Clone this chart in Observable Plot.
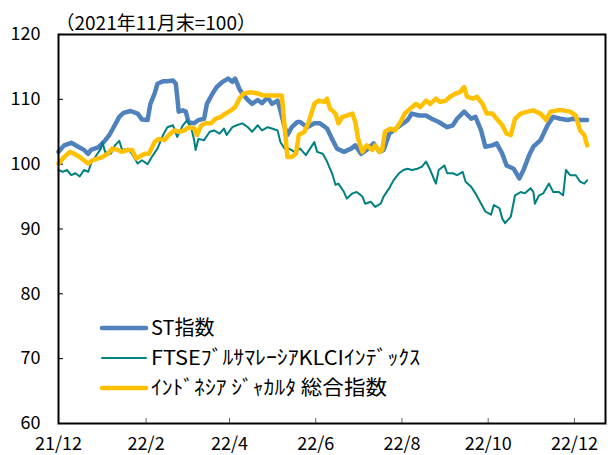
<!DOCTYPE html>
<html><head><meta charset="utf-8">
<script src="https://cdn.jsdelivr.net/npm/d3@7"></script>
<script src="https://cdn.jsdelivr.net/npm/@observablehq/plot@0.6"></script>
<style>body{margin:0;background:#fff} #chart{width:614px;height:455px}</style>
</head><body><div id="chart"></div>
<script>
const titleText = "（2021年11月末=100）";
const seriesNames = ["ST指数", "FTSEﾌﾞﾙｻﾏﾚｰｼｱKLCIｲﾝﾃﾞｯｸｽ", "ｲﾝﾄﾞﾈｼｱ ｼﾞｬｶﾙﾀ 総合指数"];
const seriesColors = ["#4F81BD", "#008080", "#FFC000"];
const legendTextWidths = [null, 269, 236];
const xTickDates = ["2021-12-01","2022-02-01","2022-04-01","2022-06-01","2022-08-01","2022-10-01","2022-12-01"];
const yTicks = [60, 70, 80, 90, 100, 110, 120];
const xDomain = ["2021-12-01", "2022-12-23"];

const stDates = ["2021-12-01","2021-12-05","2021-12-10","2021-12-14","2021-12-19","2021-12-22","2021-12-24","2021-12-29",
"2022-01-02","2022-01-06","2022-01-09","2022-01-13","2022-01-16","2022-01-21","2022-01-26","2022-01-29",
"2022-02-02","2022-02-04","2022-02-07","2022-02-09","2022-02-13","2022-02-16","2022-02-20","2022-02-22","2022-02-23","2022-02-24","2022-02-27",
"2022-03-01","2022-03-03","2022-03-07","2022-03-10","2022-03-14","2022-03-16","2022-03-20","2022-03-23","2022-03-27","2022-03-31",
"2022-04-03","2022-04-05","2022-04-08","2022-04-10","2022-04-14","2022-04-17","2022-04-21","2022-04-24","2022-04-28",
"2022-05-01","2022-05-05","2022-05-07","2022-05-10","2022-05-12","2022-05-15","2022-05-19","2022-05-21","2022-05-26","2022-05-31",
"2022-06-04","2022-06-09","2022-06-13","2022-06-16","2022-06-21","2022-06-26","2022-06-29",
"2022-07-03","2022-07-07","2022-07-12","2022-07-16","2022-07-19","2022-07-23","2022-07-26","2022-07-31",
"2022-08-05","2022-08-08","2022-08-13","2022-08-18","2022-08-22","2022-08-27",
"2022-09-02","2022-09-06","2022-09-09","2022-09-14","2022-09-19","2022-09-22","2022-09-26","2022-09-29",
"2022-10-04","2022-10-07","2022-10-11","2022-10-14","2022-10-19","2022-10-23","2022-10-26","2022-10-30",
"2022-11-02","2022-11-07","2022-11-12","2022-11-16","2022-11-21","2022-11-26","2022-11-30",
"2022-12-05","2022-12-10"];
const stValues = [101.9,102.9,103.3,102.8,102.2,101.6,102.2,102.6,
103.4,104.5,105.7,107.3,107.9,108.2,107.8,106.9,
106.8,109.3,110.9,112.4,112.8,112.8,112.9,112.4,110.4,108.1,108.3,
108.1,106.5,106.3,106.8,107.0,109.3,110.9,111.9,112.7,113.2,
112.7,113.2,111.6,110.9,109.9,109.3,109.9,109.4,110.3,
109.3,109.8,108.3,105.7,104.5,105.7,106.5,106.5,105.7,106.3,
106.3,105.5,103.7,102.4,101.9,102.4,102.9,
101.6,102.2,103.2,101.9,102.2,104.7,105.2,106.0,
106.8,107.8,107.5,107.5,107.0,106.5,
105.7,106.0,107.0,108.1,107.0,107.3,105.2,102.7,
102.9,103.2,101.6,99.8,99.3,97.8,99.1,101.4,
102.7,103.7,106.0,107.3,107.0,106.8,107.0,
106.8,106.8];

const klciDates = ["2021-12-01","2021-12-04","2021-12-07","2021-12-10","2021-12-13","2021-12-16","2021-12-19","2021-12-22","2021-12-24","2021-12-27","2021-12-31",
"2022-01-01","2022-01-03","2022-01-07","2022-01-10","2022-01-13","2022-01-15","2022-01-19","2022-01-22","2022-01-26","2022-01-29",
"2022-02-02","2022-02-05","2022-02-09","2022-02-13","2022-02-16","2022-02-20","2022-02-23","2022-02-27",
"2022-03-02","2022-03-05","2022-03-07","2022-03-08","2022-03-10","2022-03-14","2022-03-18","2022-03-21","2022-03-25","2022-03-28","2022-03-30",
"2022-04-03","2022-04-06","2022-04-10","2022-04-14","2022-04-17","2022-04-21","2022-04-24","2022-04-28",
"2022-05-01","2022-05-05","2022-05-07","2022-05-10","2022-05-13","2022-05-17","2022-05-21","2022-05-25","2022-05-28","2022-05-31",
"2022-06-02","2022-06-06","2022-06-09","2022-06-13","2022-06-15","2022-06-17","2022-06-21","2022-06-23","2022-06-27","2022-06-30",
"2022-07-04","2022-07-06","2022-07-10","2022-07-13","2022-07-17","2022-07-19","2022-07-23","2022-07-26","2022-07-30",
"2022-08-02","2022-08-05","2022-08-08","2022-08-12","2022-08-15","2022-08-18","2022-08-21","2022-08-25","2022-08-27","2022-08-31",
"2022-09-02","2022-09-06","2022-09-09","2022-09-13","2022-09-15","2022-09-19","2022-09-22","2022-09-26","2022-09-29",
"2022-10-03","2022-10-05","2022-10-09","2022-10-11","2022-10-13","2022-10-17","2022-10-20","2022-10-24","2022-10-27","2022-10-31",
"2022-11-02","2022-11-03","2022-11-06","2022-11-09","2022-11-13","2022-11-16","2022-11-20","2022-11-23","2022-11-25","2022-11-28",
"2022-12-02","2022-12-05","2022-12-08","2022-12-10"];
const klciValues = [99.1,98.8,99.1,98.3,98.6,98.1,99.1,98.8,100.1,101.1,102.4,
103.4,101.9,101.6,102.9,103.6,102.2,102.4,101.6,100.1,100.6,
100.0,101.1,102.4,104.5,105.7,106.0,104.2,106.0,
106.8,105.5,103.7,102.2,103.9,103.7,105.0,105.2,104.7,105.5,104.5,
105.7,106.0,106.3,105.7,105.0,106.0,105.2,105.7,
105.5,105.2,103.4,102.4,102.4,101.9,102.4,101.4,102.4,103.4,
101.9,101.6,100.4,98.3,96.8,97.0,95.7,94.7,95.5,95.7,
95.0,93.9,94.2,93.4,93.9,95.0,96.3,97.5,98.6,
99.1,99.3,99.1,99.3,99.6,100.4,99.1,97.0,99.1,99.8,
98.6,98.6,98.3,98.8,97.3,96.5,95.5,93.9,92.7,
92.2,93.7,93.2,91.6,90.9,91.9,95.2,95.7,95.5,96.3,
95.7,93.9,95.2,95.5,97.0,95.7,95.7,95.2,99.1,98.3,
98.3,97.3,97.0,97.5];

const jciDates = ["2021-12-01","2021-12-05","2021-12-09","2021-12-12","2021-12-16","2021-12-19","2021-12-22","2021-12-25","2021-12-29",
"2022-01-01","2022-01-05","2022-01-08","2022-01-12","2022-01-15","2022-01-19","2022-01-22","2022-01-25","2022-01-27","2022-01-31",
"2022-02-03","2022-02-07","2022-02-10","2022-02-14","2022-02-17","2022-02-21","2022-02-24","2022-02-28",
"2022-03-03","2022-03-07","2022-03-09","2022-03-12","2022-03-15","2022-03-19","2022-03-22","2022-03-26","2022-03-29",
"2022-04-02","2022-04-05","2022-04-08","2022-04-11","2022-04-16","2022-04-21","2022-04-25","2022-04-30",
"2022-05-05","2022-05-08","2022-05-10","2022-05-12","2022-05-15","2022-05-18","2022-05-20","2022-05-24","2022-05-27","2022-05-31",
"2022-06-03","2022-06-07","2022-06-09","2022-06-11","2022-06-15","2022-06-17","2022-06-20","2022-06-23","2022-06-27","2022-06-29",
"2022-07-01","2022-07-04","2022-07-07","2022-07-11","2022-07-13","2022-07-16","2022-07-18","2022-07-20","2022-07-24","2022-07-27","2022-07-31",
"2022-08-03","2022-08-07","2022-08-11","2022-08-14","2022-08-18","2022-08-21","2022-08-25","2022-08-28",
"2022-09-01","2022-09-04","2022-09-08","2022-09-11","2022-09-14","2022-09-16","2022-09-20","2022-09-23","2022-09-27","2022-09-30",
"2022-10-04","2022-10-07","2022-10-11","2022-10-14","2022-10-17","2022-10-20","2022-10-24","2022-10-29",
"2022-11-02","2022-11-07","2022-11-11","2022-11-14","2022-11-19","2022-11-23","2022-11-28",
"2022-12-02","2022-12-05","2022-12-08","2022-12-10"];
const jciValues = [100.1,101.1,101.9,101.6,101.1,100.6,100.1,100.6,100.9,
101.1,101.6,102.4,102.2,101.9,102.2,102.2,100.9,101.1,101.6,
101.6,103.4,103.9,103.7,104.5,105.2,105.0,105.2,
105.7,105.5,104.5,106.0,106.3,106.3,107.0,107.3,107.8,
108.3,108.8,110.1,110.9,111.1,110.9,110.6,110.6,
110.6,110.6,105.7,101.1,101.1,101.6,104.5,105.0,106.5,109.3,
109.8,109.6,110.1,108.6,107.8,106.3,107.3,107.5,107.8,106.5,
103.9,101.9,102.9,102.2,102.9,101.9,102.2,105.0,105.5,105.2,106.5,
107.8,108.6,109.3,108.8,109.8,109.3,110.1,109.6,
109.8,110.4,110.9,111.1,111.9,110.4,110.1,110.4,109.3,107.8,
107.8,107.0,106.0,104.7,104.5,107.0,107.8,108.1,
108.3,107.8,106.8,108.1,108.3,108.3,108.1,
107.5,105.2,104.5,102.9];

const toRows = (dates, values, series) => dates.map((d, i) => ({date: new Date(d), value: values[i], series}));
const stRows = toRows(stDates, stValues, seriesNames[0]);
const klciRows = toRows(klciDates, klciValues, seriesNames[1]);
const jciRows = toRows(jciDates, jciValues, seriesNames[2]);
const xTicks = xTickDates.map(d => new Date(d));
const fmt = d => `${d.getUTCFullYear() % 100}/${d.getUTCMonth() + 1}`;
const font = "'Noto Sans CJK JP', 'Noto Sans', sans-serif";

const chart = Plot.plot({
  width: 614, height: 455,
  marginTop: 34, marginLeft: 58, marginRight: 9, marginBottom: 32,
  style: {fontFamily: font, fontSize: "18px", color: "#000", background: "#fff", overflow: "visible"},
  x: {type: "utc", domain: xDomain.map(d => new Date(d))},
  y: {domain: [60, 120]},
  marks: [
    Plot.axisX({ticks: xTicks, tickFormat: fmt, tickSize: -5, tickPadding: 19, label: null, stroke: "#666"}),
    Plot.axisY({ticks: yTicks, tickSize: -5, tickPadding: 23, label: null}),
    Plot.lineY(stRows, {x: "date", y: "value", stroke: seriesColors[0], strokeWidth: 4.5, strokeLinejoin: "round", strokeLinecap: "round"}),
    Plot.lineY(klciRows, {x: "date", y: "value", stroke: seriesColors[1], strokeWidth: 2, strokeLinejoin: "round"}),
    Plot.lineY(jciRows, {x: "date", y: "value", stroke: seriesColors[2], strokeWidth: 4.5, strokeLinejoin: "round", strokeLinecap: "round"}),
    Plot.frame({stroke: "#000", strokeWidth: 2}),
    Plot.text([titleText], {frameAnchor: "top-left", textAnchor: "start", lineAnchor: "middle", dx: -3, dy: -11, fontSize: 19})
  ]
});

const svg = d3.select(chart);
const lg = svg.append("g").attr("font-family", font).attr("font-size", 20).attr("text-anchor", "start");
seriesNames.forEach((name, i) => {
  const y = 328 + 30 * i;
  lg.append("line").attr("x1", 102).attr("x2", 146).attr("y1", y).attr("y2", y)
    .attr("stroke", seriesColors[i]).attr("stroke-width", i === 1 ? 2 : 4.5).attr("stroke-linecap", "round");
  const t = lg.append("text").attr("x", 151).attr("y", y).attr("dy", "0.35em").attr("fill", "#000").text(name);
  if (legendTextWidths[i]) t.attr("textLength", legendTextWidths[i]).attr("lengthAdjust", "spacingAndGlyphs");
});
document.getElementById("chart").appendChild(chart);
</script>
</body></html>
